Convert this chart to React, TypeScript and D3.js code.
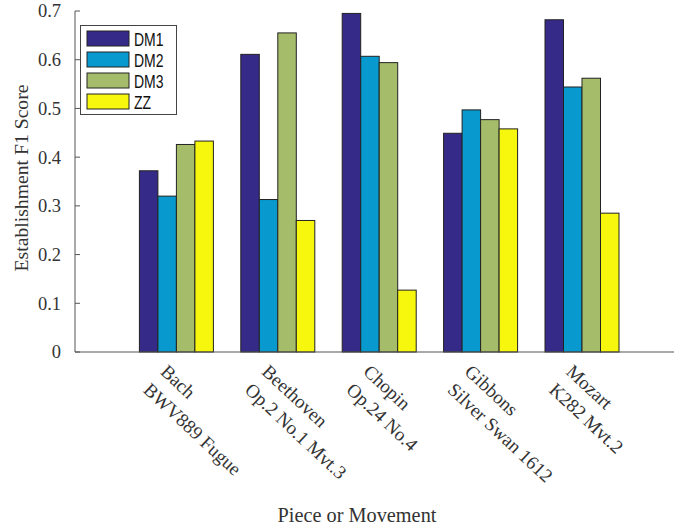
import React from 'react';
import * as d3 from 'd3';

// pieces on the x axis, two lines each
const pieces = ['Bach', 'Beethoven', 'Chopin', 'Gibbons', 'Mozart'];
const movements = ['BWV889 Fugue', 'Op.2 No.1 Mvt.3', 'Op.24 No.4', 'Silver Swan 1612', 'K282 Mvt.2'];

const series = ['DM1', 'DM2', 'DM3', 'ZZ'];
const colors = ['#352a87', '#0899ce', '#a5bd6a', '#f7f70e'];

// F1 scores per series, in piece order
const dm1 = [0.372, 0.611, 0.695, 0.449, 0.682];
const dm2 = [0.320, 0.313, 0.607, 0.497, 0.544];
const dm3 = [0.426, 0.655, 0.594, 0.477, 0.562];
const zz = [0.433, 0.270, 0.127, 0.458, 0.285];

const yTicks = [0, 0.1, 0.2, 0.3, 0.4, 0.5, 0.6, 0.7];

const W = 674;
const H = 529;
const left = 75;
const top = 11;
const bottom = 352;

export default function App() {
  const values = [dm1, dm2, dm3, zz];

  const x = d3.scaleLinear().domain([0, 6]).range([left, left + 6 * 101.4]);
  const y = d3.scaleLinear().domain([0, 0.7]).range([bottom, top]);
  const sub = d3.scaleBand<string>().domain(series).range([-37, 37]).paddingInner(0);
  const fmt = (v: number) => (v === 0 ? '0' : d3.format('.1f')(v));

  const serif = '"Liberation Serif", "Times New Roman", serif';
  const sans = '"Liberation Sans", Arial, sans-serif';
  const axisColor = '#555';
  const textColor = '#333';

  return (
    <svg width={W} height={H} style={{ position: 'absolute', left: 0, top: 0, background: '#fff' }}>
      {/* bars */}
      {pieces.map((p, i) => (
        <g key={p} transform={`translate(${x(i + 1)},0)`}>
          {series.map((s, k) => (
            <rect
              key={s}
              x={sub(s)}
              y={y(values[k][i])}
              width={sub.bandwidth()}
              height={y(0) - y(values[k][i])}
              fill={colors[k]}
              stroke="#222"
              strokeWidth={1}
            />
          ))}
        </g>
      ))}

      {/* y axis */}
      <line x1={left} x2={left} y1={y(0.7)} y2={y(0)} stroke={axisColor} strokeWidth={1} />
      {yTicks.map(t => (
        <g key={t}>
          <line x1={left} x2={left + 5} y1={y(t)} y2={y(t)} stroke={axisColor} />
          <text x={61} y={y(t)} dy="0.35em" textAnchor="end" fontFamily={serif} fontSize={18.5} fill={textColor}>
            {fmt(t)}
          </text>
        </g>
      ))}
      {/* x axis */}
      <line x1={left} x2={W} y1={y(0)} y2={y(0)} stroke={axisColor} strokeWidth={1.2} />

      {/* x tick labels */}
      {pieces.map((p, i) => (
        <text
          key={p}
          transform={`translate(${x(i + 1) - 17},373) rotate(43)`}
          fontFamily={serif}
          fontSize={19}
          fill={textColor}
        >
          <tspan x={0} dy={0}>{p}</tspan>
          <tspan x={0} dy={25}>{movements[i]}</tspan>
        </text>
      ))}

      {/* axis titles */}
      <text
        transform={`translate(28,178) rotate(-90)`}
        textAnchor="middle"
        fontFamily={serif}
        fontSize={19.7}
        fill={textColor}
      >
        Establishment F1 Score
      </text>
      <text x={357} y={522} textAnchor="middle" fontFamily={serif} fontSize={20.3} fill={textColor}>
        Piece or Movement
      </text>

      {/* legend */}
      <g>
        <rect x={80.5} y={25.5} width={96} height={89} fill="#fff" stroke="#444" strokeWidth={1} />
        {series.map((s, k) => (
          <g key={s} transform={`translate(0,${31 + k * 21})`}>
            <rect x={87} y={0} width={42} height={15} fill={colors[k]} stroke="#222" />
            <text
              transform="translate(134,15) scale(0.8,1)"
              fontFamily={sans}
              fontSize={17.5}
              fill="#111"
            >
              {s}
            </text>
          </g>
        ))}
      </g>
    </svg>
  );
}
